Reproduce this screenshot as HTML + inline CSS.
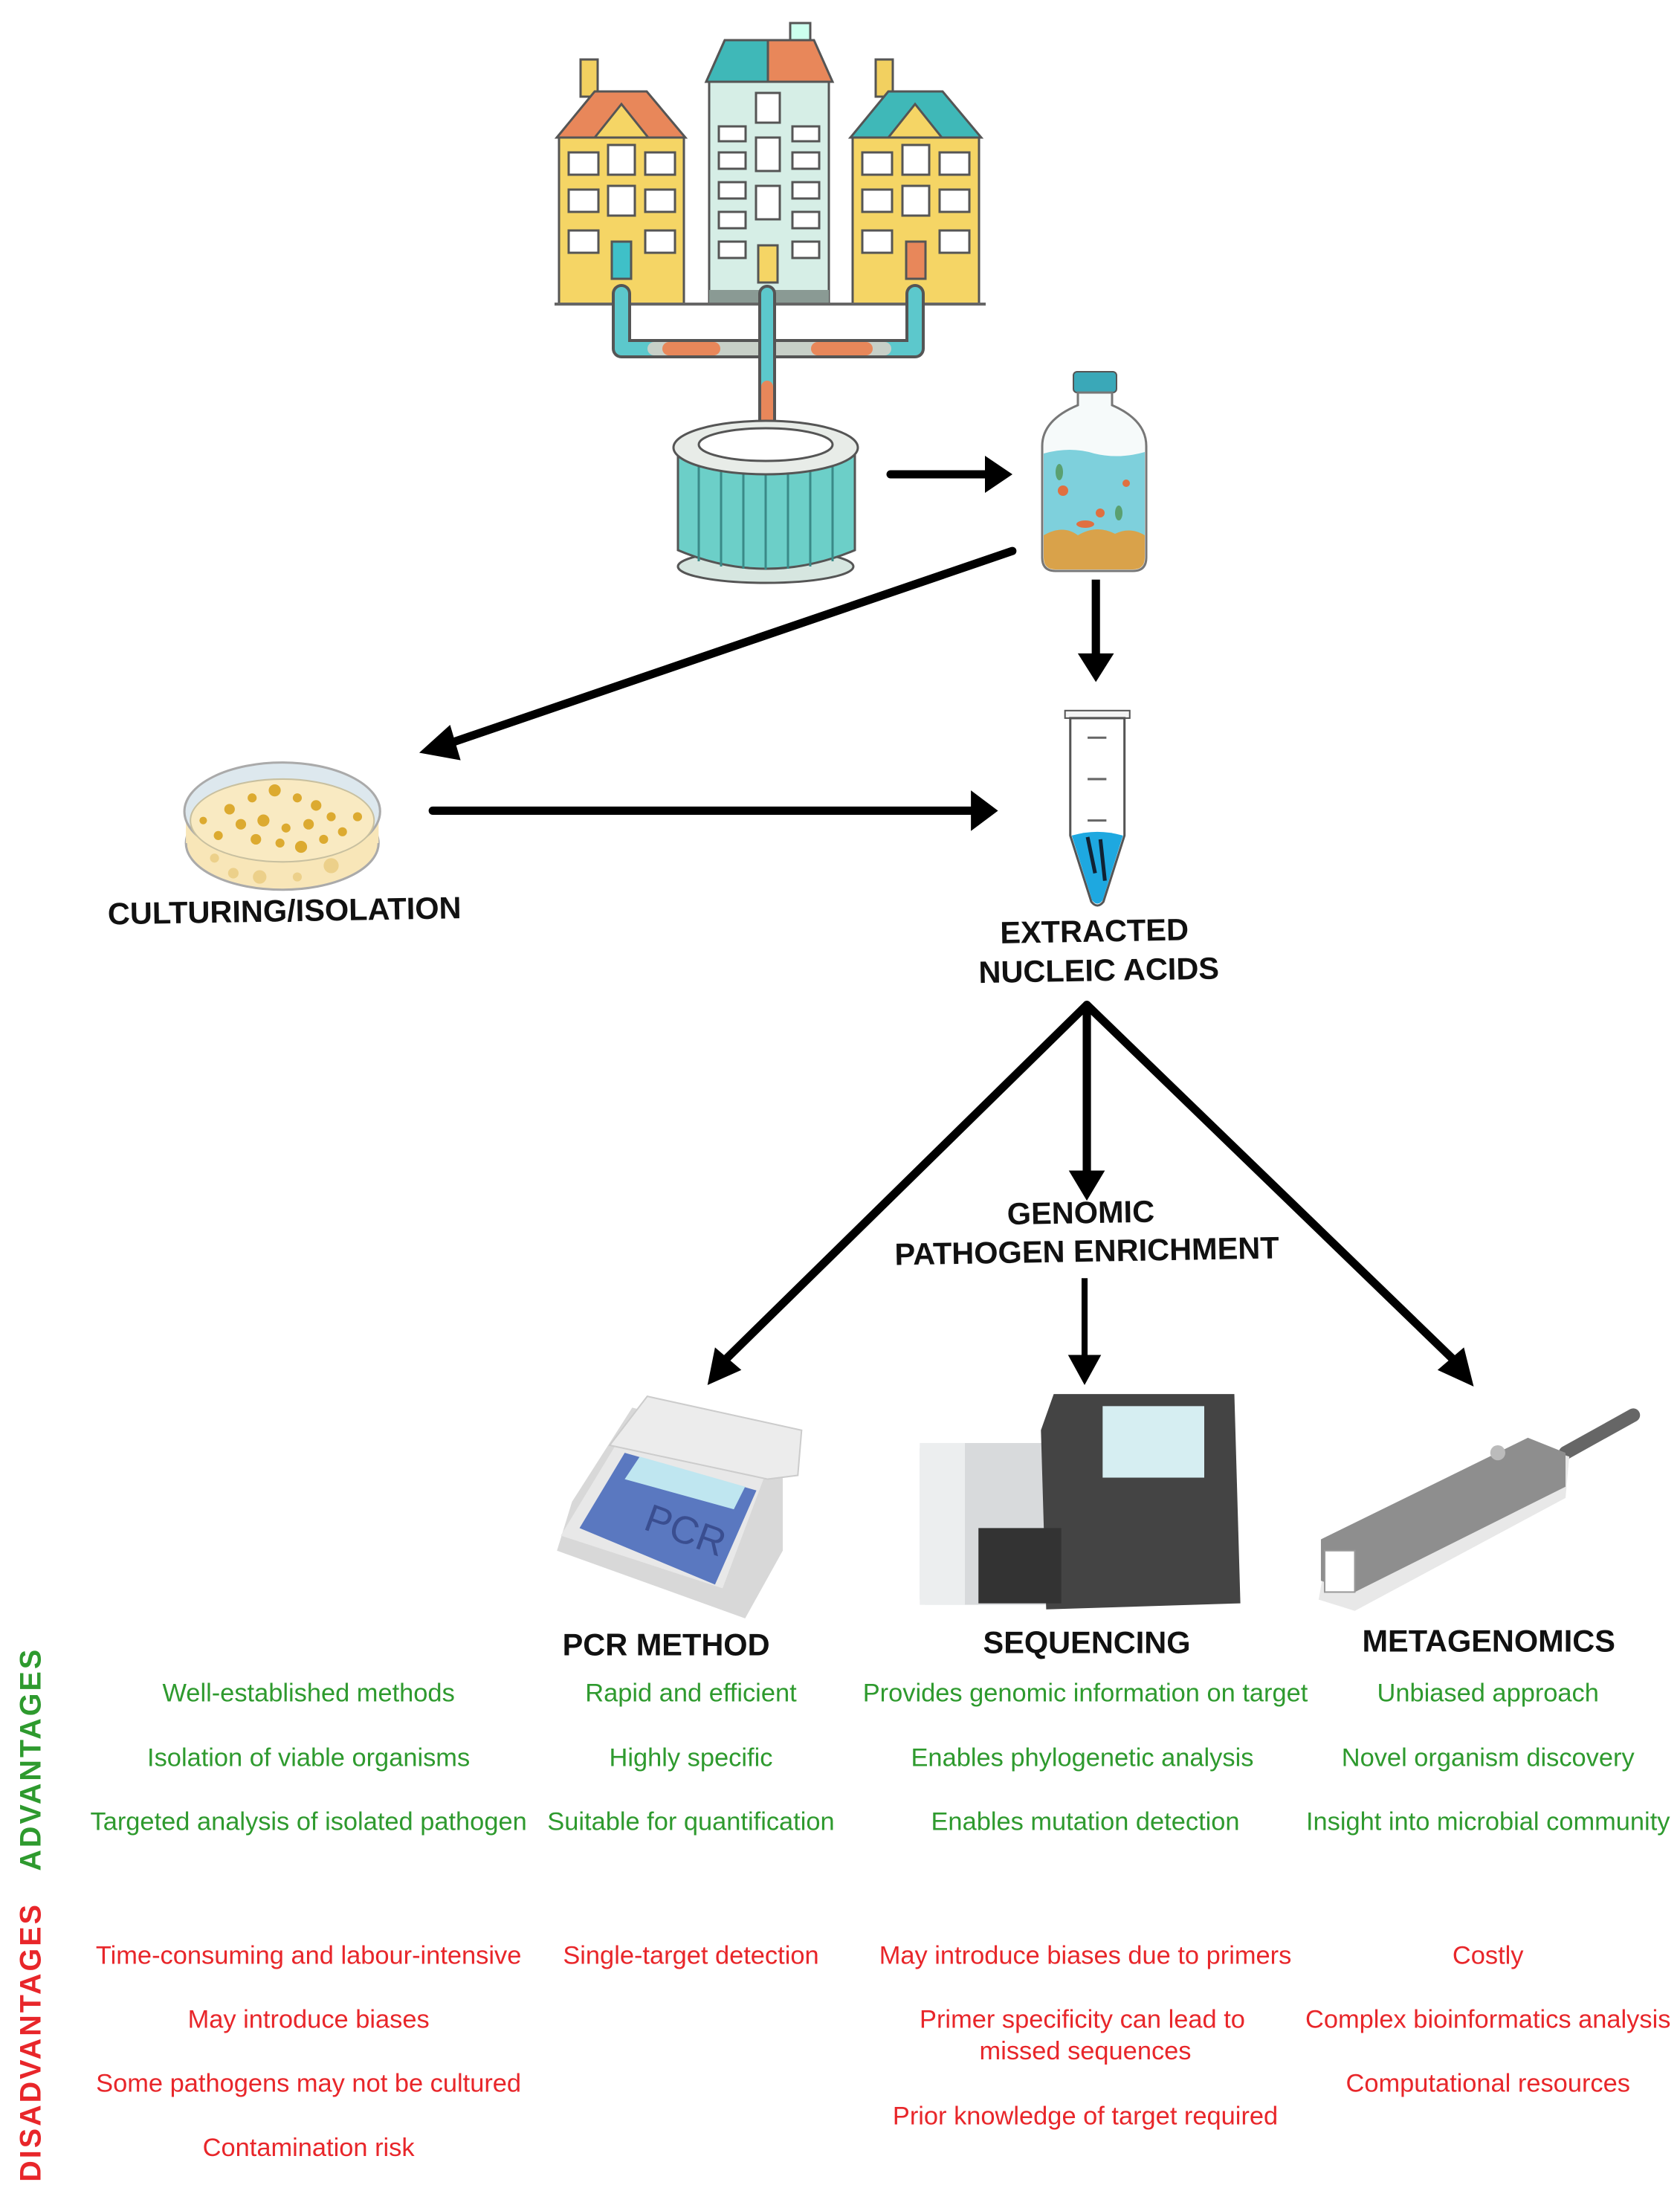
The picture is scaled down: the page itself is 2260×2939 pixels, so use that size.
<!DOCTYPE html>
<html><head><meta charset="utf-8"><style>
html,body{margin:0;padding:0;background:#fff}
svg{display:block}
text{font-family:"Liberation Sans",Arial,sans-serif}
.lb{font-weight:bold;font-size:41px;fill:#111;text-anchor:middle}
.g{font-size:34px;fill:#2e9a2e;text-anchor:middle}
.r{font-size:34px;fill:#e8262a;text-anchor:middle}
</style></head><body>
<svg width="2260" height="2939" viewBox="0 0 2260 2939" xmlns="http://www.w3.org/2000/svg">
<g>
<!-- Buildings -->
<g stroke="#555" stroke-width="3">
  <rect x="781" y="80" width="23" height="50" fill="#f2d060"/>
  <polygon points="749,185 800,123 870,123 922,185" fill="#e8875a"/>
  <rect x="752" y="185" width="168" height="224" fill="#f5d565"/>
  <polygon points="800,185 836,140 872,185" fill="#f5d565"/>
  <rect x="1063" y="31" width="27" height="25" fill="#cfe"/>
  <polygon points="950,110 975,54 1095,54 1120,110" fill="#e8875a"/>
  <polygon points="950,110 975,54 1033,54 1033,110" fill="#3fb8b8"/>
  <rect x="954" y="110" width="161" height="299" fill="#d6eee6"/>
  <rect x="1178" y="80" width="23" height="50" fill="#f2d060"/>
  <polygon points="1144,185 1195,123 1268,123 1320,185" fill="#3fb8b8"/>
  <rect x="1147" y="185" width="170" height="224" fill="#f5d565"/>
  <polygon points="1195,185 1231,140 1267,185" fill="#f5d565"/>
</g>
<g fill="#fff" stroke="#555" stroke-width="3">
  <rect x="765" y="205" width="40" height="30"/><rect x="818" y="195" width="36" height="40"/><rect x="868" y="205" width="40" height="30"/>
  <rect x="765" y="255" width="40" height="30"/><rect x="818" y="250" width="36" height="40"/><rect x="868" y="255" width="40" height="30"/>
  <rect x="765" y="310" width="40" height="30"/><rect x="868" y="310" width="40" height="30"/>
  <rect x="1160" y="205" width="40" height="30"/><rect x="1214" y="195" width="36" height="40"/><rect x="1264" y="205" width="40" height="30"/>
  <rect x="1160" y="255" width="40" height="30"/><rect x="1214" y="250" width="36" height="40"/><rect x="1264" y="255" width="40" height="30"/>
  <rect x="1160" y="310" width="40" height="30"/><rect x="1264" y="310" width="40" height="30"/>
  <rect x="967" y="170" width="36" height="20"/><rect x="967" y="205" width="36" height="22"/><rect x="967" y="245" width="36" height="22"/><rect x="967" y="285" width="36" height="22"/><rect x="967" y="325" width="36" height="22"/>
  <rect x="1066" y="170" width="36" height="20"/><rect x="1066" y="205" width="36" height="22"/><rect x="1066" y="245" width="36" height="22"/><rect x="1066" y="285" width="36" height="22"/><rect x="1066" y="325" width="36" height="22"/>
  <rect x="1017" y="125" width="32" height="40"/><rect x="1017" y="185" width="32" height="45"/><rect x="1017" y="250" width="32" height="45"/>
</g>
<rect x="823" y="325" width="26" height="50" fill="#3fc0c8" stroke="#555" stroke-width="3"/>
<rect x="1020" y="330" width="26" height="50" fill="#f5d565" stroke="#555" stroke-width="3"/>
<rect x="1219" y="325" width="26" height="50" fill="#e8875a" stroke="#555" stroke-width="3"/>
<rect x="954" y="390" width="161" height="19" fill="#8a9a94"/>
<line x1="746" y1="409" x2="1326" y2="409" stroke="#666" stroke-width="4"/>

<g fill="none" stroke-linecap="round" stroke-linejoin="round">
  <path d="M836,395 L836,469 L1231,469 L1231,395" stroke="#555" stroke-width="26"/>
  <path d="M836,395 L836,469 L1231,469 L1231,395" stroke="#5cc8cc" stroke-width="18"/>
  <line x1="880" y1="469" x2="1190" y2="469" stroke="#c8d0c8" stroke-width="18"/>
  <line x1="900" y1="469" x2="960" y2="469" stroke="#e8875a" stroke-width="18"/>
  <line x1="1100" y1="469" x2="1165" y2="469" stroke="#e8875a" stroke-width="18"/>
  <line x1="1032" y1="395" x2="1032" y2="570" stroke="#555" stroke-width="24"/>
  <line x1="1032" y1="395" x2="1032" y2="570" stroke="#5cc8cc" stroke-width="16"/>
  <line x1="1032" y1="520" x2="1032" y2="568" stroke="#e8875a" stroke-width="16"/>
</g>

<ellipse cx="1030" cy="762" rx="118" ry="22" fill="#d6e6e0" stroke="#555" stroke-width="3"/>
<path d="M912,612 L912,740 Q1030,790 1150,740 L1150,612 Z" fill="#6ccfc8" stroke="#555" stroke-width="3"/>
<g stroke="#3a8a88" stroke-width="3">
  <line x1="940" y1="620" x2="940" y2="755"/><line x1="970" y1="625" x2="970" y2="762"/><line x1="1000" y1="628" x2="1000" y2="765"/><line x1="1030" y1="628" x2="1030" y2="766"/><line x1="1060" y1="628" x2="1060" y2="765"/><line x1="1090" y1="625" x2="1090" y2="762"/><line x1="1120" y1="620" x2="1120" y2="755"/>
</g>
<ellipse cx="1030" cy="602" rx="124" ry="36" fill="#e8ece8" stroke="#555" stroke-width="3"/>
<ellipse cx="1030" cy="598" rx="90" ry="22" fill="#fff" stroke="#555" stroke-width="3"/>

<line x1="1198" y1="638" x2="1340" y2="638" stroke="#000" stroke-width="11" stroke-linecap="round"/>
<polygon points="1325,613 1362,638 1325,663" fill="#000"/>

<rect x="1444" y="500" width="58" height="28" rx="5" fill="#3aa8b8" stroke="#555" stroke-width="2"/>
<path d="M1450,528 L1450,545 Q1402,565 1402,600 L1402,750 Q1402,768 1420,768 L1524,768 Q1542,768 1542,750 L1542,600 Q1542,565 1496,545 L1496,528 Z" fill="#f6fafa" stroke="#777" stroke-width="3"/>
<path d="M1404,610 Q1440,600 1472,610 Q1505,618 1540,608 L1540,740 L1404,740 Z" fill="#7ed0dc"/>
<path d="M1404,720 Q1430,705 1450,720 Q1475,705 1500,718 Q1520,708 1540,720 L1540,750 Q1540,766 1524,766 L1420,766 Q1404,766 1404,750 Z" fill="#d9a24a"/>
<g fill="#e07040"><circle cx="1430" cy="660" r="7"/><circle cx="1480" cy="690" r="6"/><circle cx="1515" cy="650" r="5"/><ellipse cx="1460" cy="705" rx="12" ry="5"/></g>
<g fill="#5aa070"><ellipse cx="1425" cy="635" rx="5" ry="11"/><ellipse cx="1505" cy="690" rx="5" ry="10"/></g>
</g>

<g transform="scale(1.0125)">
<line x1="1456" y1="770" x2="1456" y2="875" stroke="#000" stroke-width="11"/>
<polygon points="1432,868 1480,868 1456,906" fill="#000"/>

<line x1="1345" y1="732" x2="590" y2="990" stroke="#000" stroke-width="11" stroke-linecap="round"/>
<polygon points="557,1000 598,963 612,1010" fill="#000"/>

<ellipse cx="375" cy="1120" rx="128" ry="62" fill="#f8e6b8" stroke="#aaa" stroke-width="3"/>
<rect x="247" y="1078" width="256" height="42" fill="#f8e6b8"/>
<ellipse cx="375" cy="1078" rx="130" ry="65" fill="#dde8ee" stroke="#aaa" stroke-width="3"/>
<ellipse cx="375" cy="1090" rx="122" ry="55" fill="#f9eac2" stroke="#c8c0a0" stroke-width="2"/>
<g fill="#dcaa30">
<circle cx="305" cy="1075" r="7"/><circle cx="335" cy="1060" r="6"/><circle cx="365" cy="1050" r="8"/><circle cx="395" cy="1060" r="6"/><circle cx="420" cy="1070" r="7"/><circle cx="440" cy="1085" r="6"/><circle cx="320" cy="1095" r="7"/><circle cx="350" cy="1090" r="8"/><circle cx="380" cy="1100" r="6"/><circle cx="410" cy="1095" r="7"/><circle cx="455" cy="1105" r="6"/><circle cx="290" cy="1110" r="6"/><circle cx="340" cy="1115" r="7"/><circle cx="372" cy="1120" r="6"/><circle cx="400" cy="1125" r="8"/><circle cx="430" cy="1115" r="6"/><circle cx="270" cy="1090" r="5"/><circle cx="475" cy="1085" r="6"/>
</g>
<g fill="#ecd08a"><circle cx="310" cy="1160" r="7"/><circle cx="345" cy="1165" r="9"/><circle cx="395" cy="1165" r="6"/><circle cx="440" cy="1150" r="10"/><circle cx="285" cy="1140" r="6"/></g>
<text class="lb" x="378" y="1224" transform="rotate(-1 378 1210)">CULTURING/ISOLATION</text>

<line x1="575" y1="1077" x2="1300" y2="1077" stroke="#000" stroke-width="11" stroke-linecap="round"/>
<polygon points="1290,1050 1326,1077 1290,1104" fill="#000"/>

<rect x="1415" y="944" width="86" height="10" fill="#f4f4f4" stroke="#555" stroke-width="2"/>
<path d="M1422,954 L1422,1110 L1450,1198 Q1458,1208 1466,1198 L1494,1110 L1494,954 Z" fill="#fff" stroke="#555" stroke-width="3"/>
<path d="M1424,1110 Q1458,1100 1492,1110 L1465,1196 Q1458,1205 1451,1196 Z" fill="#1ea8e0"/>
<path d="M1445,1112 L1455,1160 M1462,1115 L1468,1170" stroke="#123" stroke-width="5"/>
<g stroke="#666" stroke-width="3"><line x1="1445" y1="980" x2="1470" y2="980"/><line x1="1445" y1="1035" x2="1470" y2="1035"/><line x1="1445" y1="1090" x2="1470" y2="1090"/></g>

<text class="lb" x="1454" y="1251" transform="rotate(-1 1454 1240)">EXTRACTED</text>
<text class="lb" x="1460" y="1303" transform="rotate(-1 1460 1290)">NUCLEIC ACIDS</text>

<line x1="1444" y1="1335" x2="960" y2="1810" stroke="#000" stroke-width="11" stroke-linecap="round"/>
<polygon points="940,1840 950,1790 985,1820" fill="#000"/>
<line x1="1444" y1="1335" x2="1444" y2="1560" stroke="#000" stroke-width="11"/>
<polygon points="1420,1555 1468,1555 1444,1595" fill="#000"/>
<line x1="1444" y1="1335" x2="1935" y2="1810" stroke="#000" stroke-width="11" stroke-linecap="round"/>
<polygon points="1958,1842 1910,1820 1945,1790" fill="#000"/>

<text class="lb" x="1436" y="1625" transform="rotate(-1 1436 1612)">GENOMIC</text>
<text class="lb" x="1444" y="1676" transform="rotate(-1 1444 1662)">PATHOGEN ENRICHMENT</text>
<line x1="1441" y1="1698" x2="1441" y2="1810" stroke="#000" stroke-width="8"/>
<polygon points="1419,1800 1463,1800 1441,1840" fill="#000"/>

<polygon points="760,1995 840,1870 1040,1920 1040,2060 990,2150 740,2060" fill="#d8d8d8"/>
<polygon points="745,2040 830,1900 1020,1950 960,2110" fill="#e8e8e8"/>
<polygon points="810,1920 860,1855 1065,1900 1060,1960 1020,1965" fill="#ececec" stroke="#ccc" stroke-width="2"/>
<polygon points="770,2030 830,1930 1005,1980 950,2105" fill="#5a78c0"/>
<polygon points="830,1965 850,1935 990,1975 975,2005" fill="#bfe6f0"/>
<text x="855" y="2040" font-size="52" fill="#3a4e90" transform="rotate(20 880 2030)">PCR</text>

<rect x="1222" y="1917" width="190" height="215" rx="8" fill="#d8dadc"/>
<rect x="1222" y="1917" width="60" height="215" fill="#eceeef"/>
<polygon points="1383,1900 1400,1852 1640,1852 1648,2130 1390,2138" fill="#444"/>
<rect x="1465" y="1868" width="135" height="95" fill="#d6eef2"/>
<rect x="1300" y="2030" width="110" height="100" fill="#333"/>

<path d="M2080,1930 L2170,1880" stroke="#666" stroke-width="18" stroke-linecap="round"/>
<polygon points="1760,2080 2040,1920 2085,1935 2080,1990 1800,2140 1752,2125" fill="#e8e8e8"/>
<polygon points="1755,2045 2030,1910 2080,1930 2080,1975 1800,2115 1755,2100" fill="#8e8e8e"/>
<rect x="1760" y="2060" width="40" height="55" fill="#fff" stroke="#999" stroke-width="2"/>
<circle cx="1990" cy="1930" r="10" fill="#bbb"/>

<text class="lb" x="885" y="2199">PCR METHOD</text>
<text class="lb" x="1444" y="2196">SEQUENCING</text>
<text class="lb" x="1978" y="2194">METAGENOMICS</text>

<text x="0" y="0" font-size="39" font-weight="bold" fill="#2e9a2e" text-anchor="middle" letter-spacing="3" transform="translate(54 2337) rotate(-90)">ADVANTAGES</text>
<text x="0" y="0" font-size="39" font-weight="bold" fill="#e8262a" text-anchor="middle" letter-spacing="3" transform="translate(54 2713) rotate(-90)">DISADVANTAGES</text>

<text class="g" x="410" y="2260">Well-established methods</text>
<text class="g" x="410" y="2346">Isolation of viable organisms</text>
<text class="g" x="410" y="2431">Targeted analysis of isolated pathogen</text>
<text class="g" x="918" y="2260">Rapid and efficient</text>
<text class="g" x="918" y="2346">Highly specific</text>
<text class="g" x="918" y="2431">Suitable for quantification</text>
<text class="g" x="1442" y="2260">Provides genomic information on target</text>
<text class="g" x="1438" y="2346">Enables phylogenetic analysis</text>
<text class="g" x="1442" y="2431">Enables mutation detection</text>
<text class="g" x="1977" y="2260">Unbiased approach</text>
<text class="g" x="1977" y="2346">Novel organism discovery</text>
<text class="g" x="1977" y="2431">Insight into microbial community</text>

<text class="r" x="410" y="2609">Time-consuming and labour-intensive</text>
<text class="r" x="410" y="2694">May introduce biases</text>
<text class="r" x="410" y="2779">Some pathogens may not be cultured</text>
<text class="r" x="410" y="2864">Contamination risk</text>
<text class="r" x="918" y="2609">Single-target detection</text>
<text class="r" x="1442" y="2609">May introduce biases due to primers</text>
<text class="r" x="1438" y="2694">Primer specificity can lead to</text>
<text class="r" x="1442" y="2736">missed sequences</text>
<text class="r" x="1442" y="2822">Prior knowledge of target required</text>
<text class="r" x="1977" y="2609">Costly</text>
<text class="r" x="1977" y="2694">Complex bioinformatics analysis</text>
<text class="r" x="1977" y="2779">Computational resources</text>
</g>
</svg>
</body></html>
